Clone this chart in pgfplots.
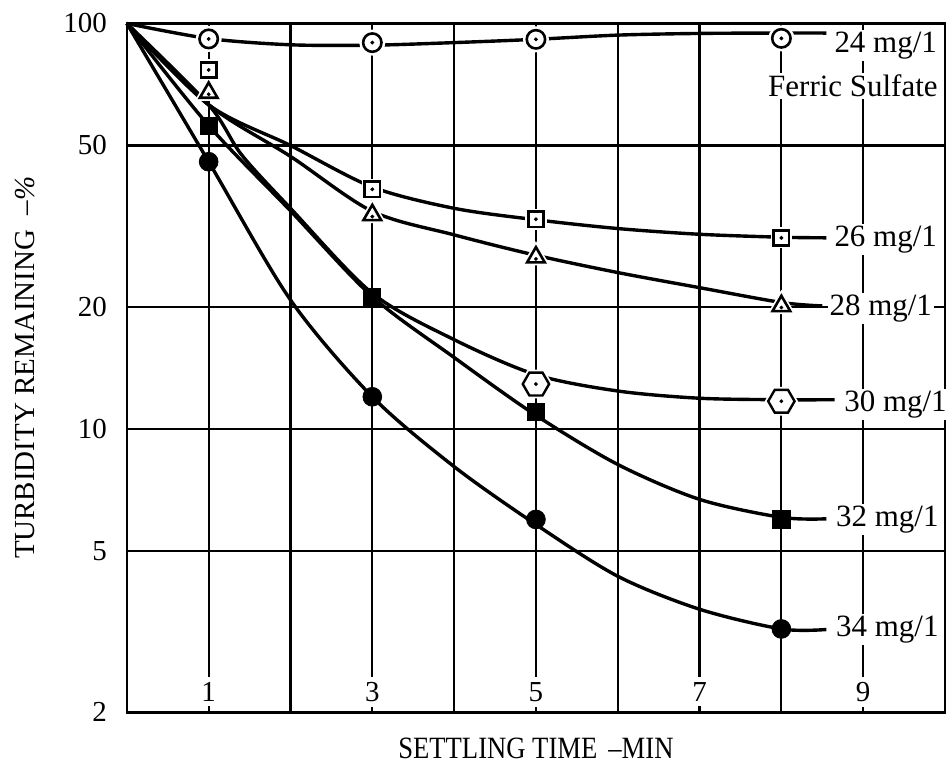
\documentclass[border=0pt]{standalone}
\usepackage{pgfplots}
\usepackage{pgfplotstable}
\pgfplotsset{compat=1.18}
\usepackage{fontspec}
\setmainfont{Liberation Serif}

\pgfdeclareplotmark{hexagon}{%
  \pgfpathmoveto{\pgfpointpolar{0}{\pgfplotmarksize}}%
  \pgfpathlineto{\pgfpointpolar{60}{\pgfplotmarksize}}%
  \pgfpathlineto{\pgfpointpolar{120}{\pgfplotmarksize}}%
  \pgfpathlineto{\pgfpointpolar{180}{\pgfplotmarksize}}%
  \pgfpathlineto{\pgfpointpolar{240}{\pgfplotmarksize}}%
  \pgfpathlineto{\pgfpointpolar{300}{\pgfplotmarksize}}%
  \pgfpathclose
  \pgfusepathqfillstroke}

% ---- curves (read from the picture) ----
\pgfplotstableread{
x y
0 100
1 91.8
2 88.6
3 88.4
4 89.7
5 91.4
6 93.6
7 94.5
8 94.7
8.55 94.7
}\cA
\pgfplotstableread{
x y
0 100
1 63
2 50.0
3 39.5
4 35.0
5 32.8
6 31.2
7 30.2
8 29.7
8.55 29.6
}\cB
\pgfplotstableread{
x y
0 100
1 63
2 47.0
3 34.4
4 30.1
5 26.8
6 24.3
7 22.3
8 20.5
8.5 20.1
}\cC
\pgfplotstableread{
x y
0 100
1 63
1.4 47.5
2 35.0
3 21.6
4 16.6
5 13.6
6 12.4
7 11.9
8 11.8
8.65 11.8
}\cD
\pgfplotstableread{
x y
0 100
1 56
2 34.5
3 21.2
4 15.0
5 10.8
6 8.17
7 6.70
8 6.05
8.55 6.0
}\cE
\pgfplotstableread{
x y
0 100
1 45.6
2 20.8
3 12.0
4 8.07
5 5.81
6 4.33
7 3.59
8 3.21
8.55 3.2
}\cF
% ---- measured points ----
\pgfplotstableread{
x y
1 91.6
3 89.7
5 91.4
8 91.9
}\pA
\pgfplotstableread{
x y
1 76.8
3 39.0
5 32.9
8 29.6
}\pB
\pgfplotstableread{
x y
1 67.5
3 33.7
5 26.5
8 20.1
}\pC
\pgfplotstableread{
x y
5 12.9
8 11.7
}\pD
\pgfplotstableread{
x y
1 55.9
3 21.2
5 11.0
8 5.98
}\pE
\pgfplotstableread{
x y
1 45.6
3 12.0
5 5.98
8 3.21
}\pF

\newcommand\lbl{\fontsize{15.5}{18}\selectfont}

\begin{document}
\fontsize{14.5}{17}\selectfont
\begin{tikzpicture}
\begin{axis}[
  at={(0,0)}, anchor=south west,
  scale only axis, width=409.5pt, height=344.75pt,
  xmin=0, xmax=10, ymin=2, ymax=100, ymode=log,
  xtick={1,3,5,7,9}, xticklabels={1,3,5,7,9},
  minor xtick={2,4,6,8},
  ytick={2,5,10,20,50,100}, yticklabels={2,5,10,20,50,100},
  xmajorgrids=true, xminorgrids=true, ymajorgrids=true, yminorgrids=false,
  major grid style={black, line width=1.1pt},
  minor grid style={black, line width=1.1pt},
  axis line style={black, line width=1.3pt},
  major tick length=0pt, minor tick length=0pt,
  xticklabel style={anchor=base, yshift=5.5pt, fill=white, inner sep=2.5pt},
  yticklabel style={xshift=-5pt},
  xlabel={\scalebox{0.86}[1]{\lbl SETTLING TIME \,--MIN}},
  ylabel={TURBIDITY REMAINING \ \textit{--\%}},
  xlabel style={at={(axis description cs:0.5,0)}, anchor=center, yshift=-18pt},
  ylabel style={at={(axis description cs:-0.124,0.5)}, anchor=center},
  clip=false,
]
% curves
\addplot[smooth, line width=1.7pt, black] table {\cA};
\addplot[smooth, line width=1.7pt, black] table {\cB};
\addplot[smooth, line width=1.7pt, black] table {\cC};
\addplot[smooth, line width=1.7pt, black] table {\cD};
\addplot[smooth, line width=1.7pt, black] table {\cE};
\addplot[smooth, line width=1.7pt, black] table {\cF};
% white halos for open markers
\addplot[only marks, mark=*, mark size=5pt, mark options={draw=white, fill=white, line width=3pt}] table {\pA};
\addplot[only marks, mark=square*, mark size=3.8pt, mark options={draw=white, fill=white, line width=3pt}] table {\pB};
\addplot[only marks, mark=triangle*, mark size=5.1pt, mark options={draw=white, fill=white, line width=3pt}] table {\pC};
\addplot[only marks, mark=hexagon, mark size=6.6pt, mark options={draw=white, fill=white, line width=3pt}] table {\pD};
% open markers
\addplot[only marks, mark=*, mark size=4.6pt, mark options={draw=black, fill=white, line width=1.3pt}] table {\pA};
\addplot[only marks, mark=square*, mark size=3.8pt, mark options={draw=black, fill=white, line width=1.3pt}] table {\pB};
\addplot[only marks, mark=triangle*, mark size=5.1pt, mark options={draw=black, fill=white, line width=1.3pt}] table {\pC};
\addplot[only marks, mark=hexagon, mark size=6.6pt, mark options={draw=black, fill=white, line width=1.2pt}] table {\pD};
% center dots
\addplot[only marks, mark=*, mark size=0.75pt, black] table {\pA};
\addplot[only marks, mark=*, mark size=0.75pt, black] table {\pB};
\addplot[only marks, mark=*, mark size=0.75pt, black, yshift=-0.8pt] table {\pC};
\addplot[only marks, mark=*, mark size=0.75pt, black] table {\pD};
% filled markers
\addplot[only marks, mark=square*, mark size=4.3pt, black] table {\pE};
\addplot[only marks, mark=*, mark size=4.7pt, black] table {\pF};
% labels
\node[anchor=base west, fill=white, inner sep=1pt] at (axis cs:8.62,85.0) {\lbl 24 mg/1};
\node[anchor=base west, fill=white, inner sep=1pt] at (axis cs:7.81,66.0) {\lbl Ferric Sulfate};
\node[anchor=base west, fill=white, inner sep=1pt] at (axis cs:8.62,28.2) {\lbl 26 mg/1};
\node[anchor=base west, fill=white, inner sep=1pt] at (axis cs:8.56,19.05) {\lbl 28 mg/1};
\node[anchor=base west, fill=white, inner sep=1pt] at (axis cs:8.74,11.05) {\lbl 30 mg/1};
\node[anchor=base west, fill=white, inner sep=1pt] at (axis cs:8.64,5.75) {\lbl 32 mg/1};
\node[anchor=base west, fill=white, inner sep=1pt] at (axis cs:8.64,3.07) {\lbl 34 mg/1};
\end{axis}
\pgfresetboundingbox
\path (-63.5pt,-34.5pt) rectangle (410pt,356.5pt);
\end{tikzpicture}
\end{document}
